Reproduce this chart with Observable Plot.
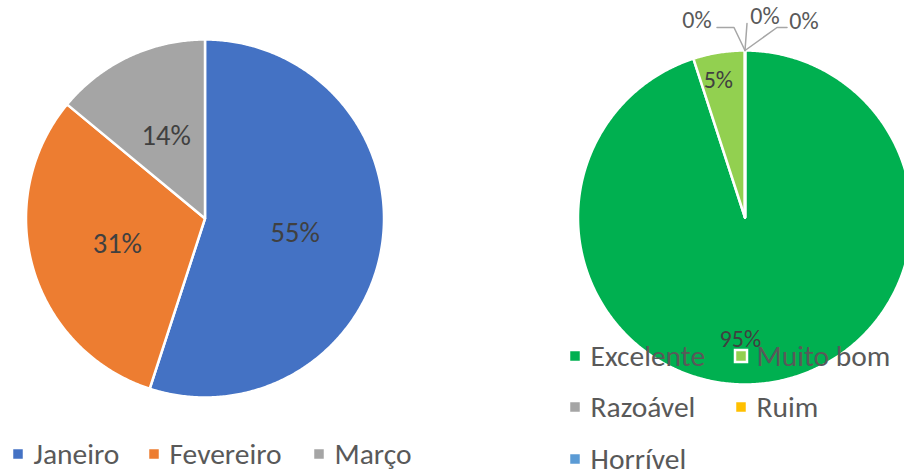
<!DOCTYPE html>
<html><head><meta charset="utf-8">
<script src="https://cdn.jsdelivr.net/npm/d3@7"></script>
<script src="https://cdn.jsdelivr.net/npm/@observablehq/plot@0.6"></script>
<style>
html,body{margin:0;padding:0;background:#fff;overflow:hidden}
#chart svg{display:block}
</style>
</head><body><div id="chart"></div>
<script>
// ---- data ----
const months = ["Janeiro", "Fevereiro", "Março"];
const monthValues = [55, 31, 14];
const monthColors = ["#4472C4", "#ED7D31", "#A5A5A5"];

const ratings = ["Excelente", "Muito bom", "Razoável", "Ruim", "Horrível"];
const ratingValues = [95, 5, 0, 0, 0];
const ratingColors = ["#00B050", "#92D050", "#A5A5A5", "#FFC000", "#5B9BD5"];

// ---- layout ----
const W = 904, H = 472;
const FONT = "Carlito, Calibri, Lato, 'Liberation Sans', sans-serif";
const leftPie = {id: "L", cx: 204.5, cy: 218, r: 179, labelFrac: [0.51, 0.51, 0.51], nudge: [0, 0, 0]};
const rightPie = {id: "R", cx: 744.5, cy: 217, r: 167, labelFrac: [0.74, 0.83], nudge: [-24, -5]};
// zero-slice callouts (offsets from the slice edge point)
const zeroCallouts = [
  {path: [[0, 0], [-11, -23], [-28, -23]], label: [-48, -30]},
  {path: [[0, 0], [2, -27]], label: [20, -34]},
  {path: [[0, 0], [32, -23], [42, -23]], label: [59, -29]}
];
const leftLegend = {xs: [12, 148, 313], y: 454};
const rightLegend = {cols: [569, 735], rows: [356, 407, 459]};
const SW = 12; // legend swatch size

// ---- geometry ----
const key = (pie, name) => pie.id + ":" + name;
function pieSlices(pie, names, values) {
  const total = d3.sum(values);
  const polys = [], labels = [], edges = [];
  let a0 = 0;
  names.forEach((n, i) => {
    const a1 = a0 + values[i] / total * 360;
    const k = key(pie, n);
    polys.push({k, x: pie.cx, y: pie.cy});
    const steps = Math.max(1, Math.ceil((a1 - a0) / 0.5));
    for (let s = 0; s <= steps; s++) {
      const t = (a0 + (a1 - a0) * s / steps) * Math.PI / 180;
      polys.push({k, x: pie.cx + pie.r * Math.sin(t), y: pie.cy - pie.r * Math.cos(t)});
    }
    const mid = (a0 + a1) / 2 * Math.PI / 180;
    if (values[i] > 0) {
      const f = pie.labelFrac[i], rr = pie.r * f;
      labels.push({text: Math.round(values[i] / total * 100) + "%",
        x: pie.cx + rr * Math.sin(mid) + (pie.nudge[i] || 0), y: pie.cy - rr * Math.cos(mid)});
    } else {
      edges.push({text: "0%", x: pie.cx + pie.r * Math.sin(mid), y: pie.cy - pie.r * Math.cos(mid)});
    }
    a0 = a1;
  });
  return {polys, labels, edges};
}
const L = pieSlices(leftPie, months, monthValues);
const R = pieSlices(rightPie, ratings, ratingValues);

const leaders = [], zeroLabels = [];
R.edges.forEach((e, i) => {
  const c = zeroCallouts[i];
  c.path.forEach(([dx, dy]) => leaders.push({g: i, x: e.x + dx, y: e.y + dy}));
  zeroLabels.push({text: e.text, x: e.x + c.label[0], y: e.y + c.label[1]});
});

const legendItems = [
  ...months.map((n, i) => ({k: key(leftPie, n), name: n, x: leftLegend.xs[i], y: leftLegend.y})),
  ...ratings.map((n, i) => ({k: key(rightPie, n), name: n,
    x: rightLegend.cols[i % 2], y: rightLegend.rows[Math.floor(i / 2)]}))
];

const colorDomain = [...months.map(n => key(leftPie, n)), ...ratings.map(n => key(rightPie, n))];
const colorRange = [...monthColors, ...ratingColors];

const chart = Plot.plot({
  width: W, height: H, margin: 0,
  style: {fontFamily: FONT, background: "#fff"},
  x: {domain: [0, W], range: [0, W], axis: null},
  y: {domain: [0, H], range: [0, H], axis: null},
  color: {domain: colorDomain, range: colorRange},
  marks: [
    Plot.line([...L.polys, ...R.polys], {x: "x", y: "y", z: "k", fill: "k", stroke: "#fff",
      strokeWidth: 2.5, strokeLinejoin: "round", curve: "linear-closed", clip: true}),
    Plot.text([...L.labels], {x: "x", y: "y", text: "text", fill: "#404040", fontSize: 28.5,
      textAnchor: "middle"}),
    Plot.text([...R.labels], {x: "x", y: "y", text: "text", fill: "#404040", fontSize: 24,
      textAnchor: "middle"}),
    Plot.line(leaders, {x: "x", y: "y", z: "g", stroke: "#A6A6A6", strokeWidth: 1.5}),
    Plot.text(zeroLabels, {x: "x", y: "y", text: "text", fill: "#595959", fontSize: 24,
      textAnchor: "middle"}),
    Plot.rect(legendItems, {x1: "x", x2: d => d.x + SW, y1: d => d.y - SW / 2, y2: d => d.y + SW / 2,
      fill: "k", stroke: "#fff", strokeWidth: 2.5}),
    Plot.text(legendItems, {x: d => d.x + 21, y: "y", text: "name", fill: "#595959", fontSize: 29.5,
      textAnchor: "start"})
  ]
});
document.getElementById("chart").append(chart);
</script>
</body></html>
